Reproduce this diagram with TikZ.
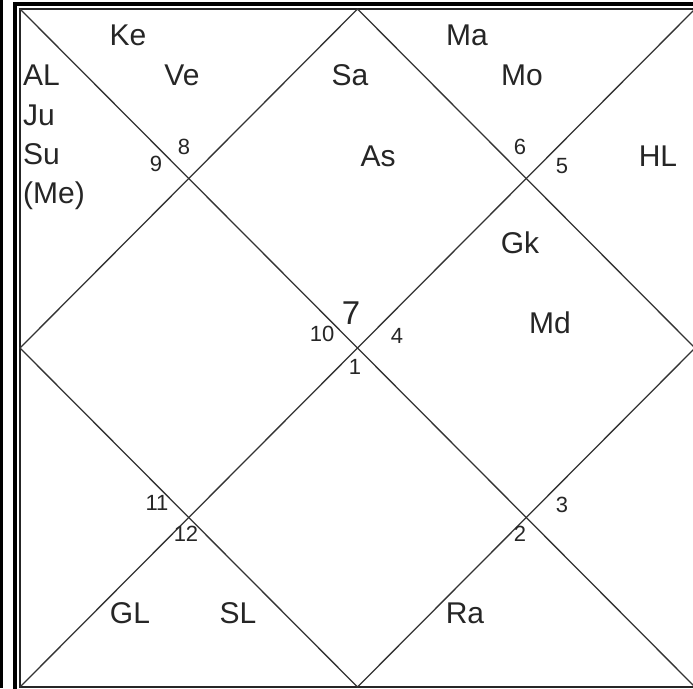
\documentclass[tikz,border=0pt]{standalone}
\usepackage{fontspec}
\setmainfont{Liberation Sans}
\begin{document}
\begin{tikzpicture}[x=1pt,y=-1pt,
  lbl/.style={font=\fontsize{30}{34}\selectfont, text=black!85, inner sep=0pt, anchor=base},
  lblw/.style={lbl, anchor=base west},
  num/.style={font=\fontsize{22}{26}\selectfont, text=black!85, inner sep=0pt, anchor=base},
  big/.style={font=\fontsize{33}{38}\selectfont, text=black!85, inner sep=0pt, anchor=base},
  ln/.style={draw=black!80, line width=1.3pt}]
\useasboundingbox (0,0) rectangle (693,688);
\clip (0,0) rectangle (693,688);
\fill[white] (0,0) rectangle (693,688);
\fill[black] (0,0) rectangle (2.5,688);
\draw[black, line width=4pt] (15,4) rectangle (720,720);
\coordinate (A) at (20,9);
\coordinate (B) at (695,9);
\coordinate (C) at (695,687);
\coordinate (D) at (20,687);
\coordinate (T) at (357.5,9);
\coordinate (R) at (695,348);
\coordinate (Bm) at (357.5,687);
\coordinate (L) at (20,348);
\draw[black!85, line width=1.5pt] (A) rectangle (C);
\draw[ln] (A) -- (C);
\draw[ln] (B) -- (D);
\draw[ln] (T) -- (R) -- (Bm) -- (L) -- cycle;
% planets
\node[lbl] (ke) at (128,45) {Ke};
\node[lblw] (al) at (23,85) {AL};
\node[lblw] (ju) at (23,125) {Ju};
\node[lblw] (su) at (23,164) {Su};
\node[lblw] (me) at (23,203) {(Me)};
\node[lbl] (ve) at (182,85) {Ve};
\node[lbl] (sa) at (350,85) {Sa};
\node[lbl] (ma) at (467,45) {Ma};
\node[lbl] (mo) at (522,85) {Mo};
\node[lbl] (as) at (378,166) {As};
\node[lbl] (hl) at (658,166) {HL};
\node[lbl] (gk) at (520,253) {Gk};
\node[lbl] (md) at (550,333) {Md};
\node[lbl] (gl) at (130,623) {GL};
\node[lbl] (sl) at (238,623) {SL};
\node[lbl] (ra) at (465,623) {Ra};
% house numbers
\node[num] (n9) at (156,171) {9};
\node[num] (n8) at (184,154) {8};
\node[num] (n6) at (520,154) {6};
\node[num] (n5) at (562,173) {5};
\node[num] (n10) at (322,341) {10};
\node[big] (n7) at (351,324) {7};
\node[num] (n4) at (397,343) {4};
\node[num] (n1) at (355,374) {1};
\node[num] (n11) at (157,510) {11};
\node[num] (n12) at (186,541) {12};
\node[num] (n3) at (562,512) {3};
\node[num] (n2) at (520,541) {2};
\end{tikzpicture}
\end{document}
